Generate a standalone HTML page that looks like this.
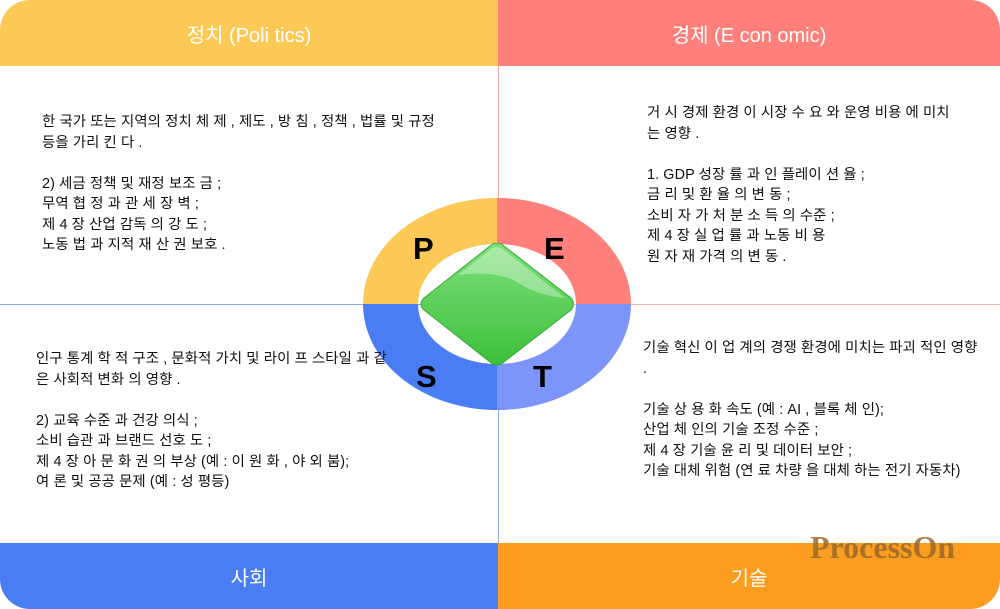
<!DOCTYPE html>
<html><head><meta charset="utf-8"><style>
body{margin:0;width:1000px;height:609px;background:#fff;position:relative;overflow:hidden;font-family:"Liberation Sans","Noto Sans CJK KR",sans-serif;}
.bar{position:absolute;color:#fff;font-size:20px;display:flex;align-items:center;justify-content:center;}
.t{position:absolute;font-size:14.4px;line-height:20.5px;color:#111;white-space:pre;letter-spacing:0.1px;}
.line{position:absolute;}
</style></head><body>
<div class="bar" style="left:0;top:0;width:498px;height:66px;background:#FCC956;border-top-left-radius:30px;">정치 (Poli tics)</div>
<div class="bar" style="left:498px;top:0;width:502px;height:66px;background:#FF7F7A;border-top-right-radius:30px;">경제 (E con omic)</div>
<div class="bar" style="left:0;top:543px;width:498px;height:66px;background:#4A7CF4;border-bottom-left-radius:30px;">사회</div>
<div class="bar" style="left:498px;top:543px;width:502px;height:66px;background:#FC9D1F;border-bottom-right-radius:30px;">기술</div>
<div style="position:absolute;left:810px;top:529px;font-family:'Liberation Serif',serif;font-weight:bold;font-size:32px;color:#9b6a2a;opacity:0.85">ProcessOn</div>
<div class="line" style="left:498px;top:66px;width:1px;height:238px;background:#f4a5a0"></div>
<div class="line" style="left:498px;top:304px;width:1px;height:239px;background:#8aa8ee"></div>
<div class="line" style="left:0;top:304px;width:498px;height:1px;background:#8aa8ee"></div>
<div class="line" style="left:498px;top:304px;width:502px;height:1px;background:#f4b5b0"></div>
<svg style="position:absolute;left:0;top:0" width="1000" height="609">
<defs><linearGradient id="g" x1="0" y1="0" x2="0" y2="1"><stop offset="0" stop-color="#7ee07a"/><stop offset="1" stop-color="#3cbf3a"/></linearGradient></defs>
<path d="M363,304 A134,106 0 0 1 497,198 L497,244 A79,60 0 0 0 418,304 Z" fill="#FCC956"/>
<path d="M497,198 A134,106 0 0 1 631,304 L576,304 A79,60 0 0 0 497,244 Z" fill="#FF7F7A"/>
<path d="M363,304 A134,106 0 0 0 497,410 L497,364 A79,60 0 0 1 418,304 Z" fill="#4A7CF4"/>
<path d="M497,410 A134,106 0 0 0 631,304 L576,304 A79,60 0 0 1 497,364 Z" fill="#7D95FB"/>
<path d="M497,244 Q500,242 504,246 L571,298 Q576,304 571,310 L504,362 Q497,368 490,362 L424,310 Q418,304 424,298 L490,246 Q494,242 497,244Z" fill="url(#g)" stroke="#3aaa38" stroke-width="1"/>
<path d="M458,275 L490,250 Q497,244 504,250 L565,298 Q540,296 520,284 Q500,270 458,275Z" fill="#fff" opacity="0.35"/>
<g font-family="Liberation Sans, sans-serif" font-weight="bold" font-size="31" fill="#000">
<text x="413" y="259">P</text><text x="544" y="259">E</text><text x="416" y="387">S</text><text x="533" y="387">T</text></g>
</svg>
<div class="t" style="left:42px;top:112px">한 국가 또는 지역의 정치 체 제 , 제도 , 방 침 , 정책 , 법률 및 규정
등을 가리 킨 다 .

2) 세금 정책 및 재정 보조 금 ;
무역 협 정 과 관 세 장 벽 ;
제 4 장 산업 감독 의 강 도 ;
노동 법 과 지적 재 산 권 보호 .</div>
<div class="t" style="left:647px;top:103px">거 시 경제 환경 이 시장 수 요 와 운영 비용 에 미치
는 영향 .

1. GDP 성장 률 과 인 플레이 션 율 ;
금 리 및 환 율 의 변 동 ;
소비 자 가 처 분 소 득 의 수준 ;
제 4 장 실 업 률 과 노동 비 용
원 자 재 가격 의 변 동 .</div>
<div class="t" style="left:36px;top:349px">인구 통계 학 적 구조 , 문화적 가치 및 라이 프 스타일 과 같
은 사회적 변화 의 영향 .

2) 교육 수준 과 건강 의식 ;
소비 습관 과 브랜드 선호 도 ;
제 4 장 아 문 화 권 의 부상 (예 : 이 원 화 , 야 외 붐);
여 론 및 공공 문제 (예 : 성 평등)</div>
<div class="t" style="left:643px;top:338px">기술 혁신 이 업 계의 경쟁 환경에 미치는 파괴 적인 영향
.

기술 상 용 화 속도 (예 : AI , 블록 체 인);
산업 체 인의 기술 조정 수준 ;
제 4 장 기술 윤 리 및 데이터 보안 ;
기술 대체 위험 (연 료 차량 을 대체 하는 전기 자동차)</div>
</body></html>
